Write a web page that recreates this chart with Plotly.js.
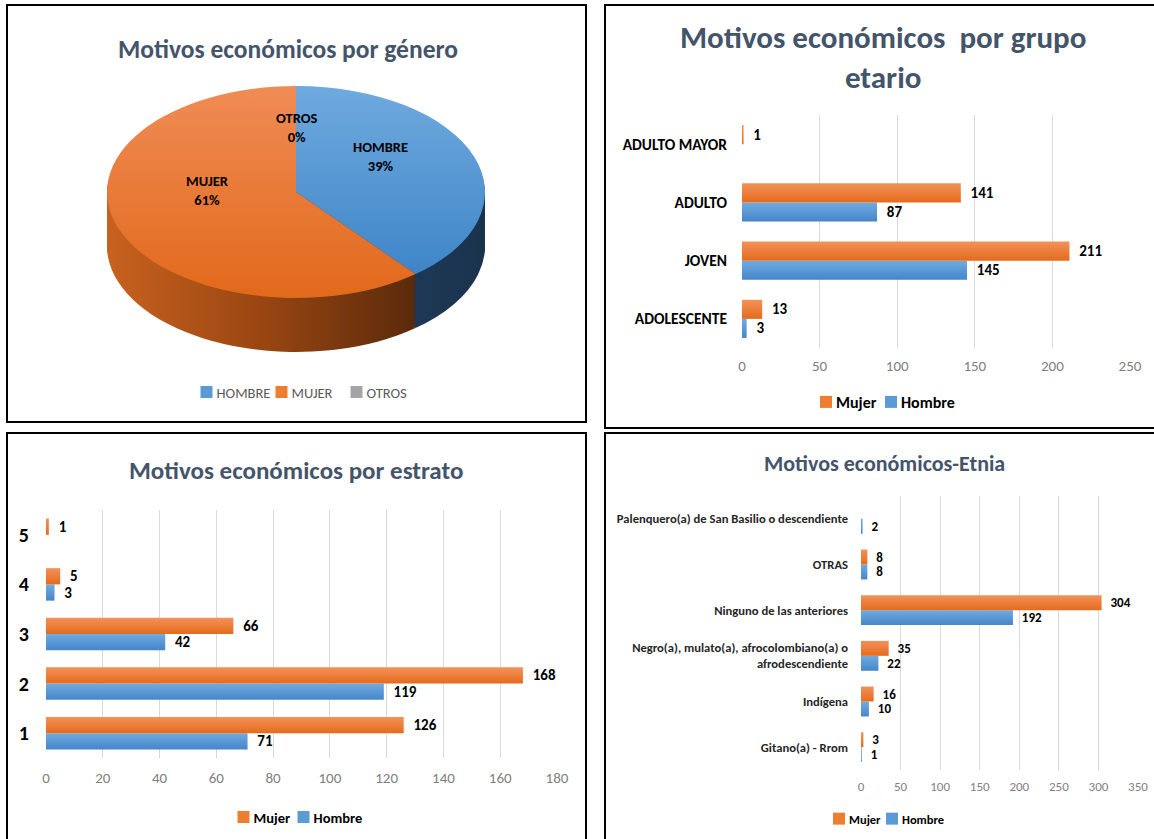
<!DOCTYPE html>
<html><head><meta charset="utf-8">
<script src="https://cdn.plot.ly/plotly-3.0.1.min.js"></script>
<style>html,body{margin:0;padding:0;background:#fff;} #chart{width:1154px;height:839px;}</style>
</head><body><div id="chart"></div>
<script>
// ---------------- data ----------------
const pieLabels = ['HOMBRE', 'MUJER', 'OTROS'];
const pieValues = [235, 366, 0];

const edadCats = ['ADOLESCENTE', 'JOVEN', 'ADULTO', 'ADULTO MAYOR'];
const edadHombre = [3, 145, 87, null];
const edadMujer = [13, 211, 141, 1];

const estratoCats = ['1', '2', '3', '4', '5'];
const estratoHombre = [71, 119, 42, 3, null];
const estratoMujer = [126, 168, 66, 5, 1];

const etniaCats = ['Gitano(a) - Rrom', 'Indígena', 'Negro(a), mulato(a), afrocolombiano(a) o<br>afrodescendiente', 'Ninguno de las anteriores', 'OTRAS', 'Palenquero(a) de San Basilio o descendiente'];
const etniaHombre = [1, 10, 22, 192, 8, 2];
const etniaMujer = [3, 16, 35, 304, 8, null];

const titles = ['Motivos económicos por género', 'Motivos económicos  por grupo<br>etario', 'Motivos económicos por estrato', 'Motivos económicos-Etnia'];

// ---------------- style / layout helpers ----------------
const W = 1154, H = 839;
const FONT = 'Carlito, Lato, "Open Sans", sans-serif';
const X = p => p / W, Y = p => 1 - p / H;
const ORANGE = '#ed7d31', BLUE = '#5b9bd5', GRAY = '#a5a5a5';
const ORANGE_SIDE = '#9c4812', BLUE_SIDE = '#1d3a56', GRAY_SIDE = '#666666';
const TITLE_COLOR = '#44546a';
const RY = 106, DEPTH = 54, STEP = 2;

const traces = [];
const pieDomain = {x: [X(107), X(485)], y: [Y(381), Y(3)]};
for (let d = DEPTH; d >= STEP; d -= STEP) {
  traces.push({type: 'pie', labels: pieLabels, values: pieValues, sort: false, direction: 'clockwise', rotation: 0,
    textinfo: 'none', hoverinfo: 'skip', showlegend: false, domain: pieDomain,
    marker: {colors: [BLUE_SIDE, ORANGE_SIDE, GRAY_SIDE], line: {width: 0}}, meta: {off: d}});
}
traces.push({type: 'pie', labels: pieLabels, values: pieValues, sort: false, direction: 'clockwise', rotation: 0,
  textinfo: 'none', hoverinfo: 'skip', showlegend: true, legend: 'legend', domain: pieDomain,
  marker: {colors: [BLUE, ORANGE, GRAY], line: {width: 0}}, meta: {off: 0}});

function barPair(cats, hom, muj, xa, ya, leg, fsize, lwM, lwH) {
  const base = {type: 'bar', orientation: 'h', y: cats, xaxis: xa, yaxis: ya, legend: leg,
    textposition: 'outside', cliponaxis: false, constraintext: 'none', texttemplate: '  %{x}',
    textfont: {family: FONT, size: fsize, color: '#000', weight: 'bold'}, hoverinfo: 'skip'};
  return [
    Object.assign({}, base, {x: hom, name: 'Hombre', marker: {color: BLUE}, legendwidth: lwH}),
    Object.assign({}, base, {x: muj, name: 'Mujer', marker: {color: ORANGE}, legendwidth: lwM})
  ];
}
traces.push(...barPair(edadCats, edadHombre, edadMujer, 'x', 'y', 'legend2', 15, 20, 60));
traces.push(...barPair(estratoCats, estratoHombre, estratoMujer, 'x2', 'y2', 'legend3', 15, 15, 54));
traces.push(...barPair(etniaCats, etniaHombre, etniaMujer, 'x3', 'y3', 'legend4', 13, 8, 46));

const xBase = {showline: false, zeroline: false, showgrid: true, gridcolor: '#d9d9d9', gridwidth: 1, ticks: '', fixedrange: true};
const yBase = {type: 'category', showline: false, zeroline: false, showgrid: false, ticks: '', fixedrange: true};

function legendAt(cx, cy, size, bold, color) {
  return {orientation: 'h', x: X(cx), y: Y(cy), xanchor: 'center', yanchor: 'middle', traceorder: 'reversed',
    bgcolor: 'rgba(0,0,0,0)', itemwidth: 30,
    font: {family: FONT, size: size, color: color, weight: bold ? 'bold' : 'normal'}};
}
function titleAnn(text, cx, cy, size) {
  return {text: text, x: X(cx), y: Y(cy), xref: 'paper', yref: 'paper', showarrow: false, xanchor: 'center', yanchor: 'middle',
    font: {family: FONT, size: size, color: TITLE_COLOR, weight: 'bold'}};
}
function border(x0, y0, x1, y1) {
  return {type: 'rect', xref: 'paper', yref: 'paper', x0: X(x0), x1: X(x1), y0: Y(y1), y1: Y(y0), line: {color: '#000', width: 2}, fillcolor: 'rgba(0,0,0,0)'};
}

const pieTotal = pieValues.reduce((a, b) => a + b, 0);
const pieLabelPos = [[380, 157], [207, 191], [296, 127]];
const pieAnns = pieLabels.map((lab, i) => ({
  text: lab + '<br>' + Math.round(100 * pieValues[i] / pieTotal) + '%',
  x: X(pieLabelPos[i][0]), y: Y(pieLabelPos[i][1]), xref: 'paper', yref: 'paper', showarrow: false,
  xanchor: 'center', yanchor: 'middle', font: {family: FONT, size: 14.5, color: '#000', weight: 'bold'}
}));

const layout = {
  width: W, height: H, margin: {l: 0, r: 0, t: 0, b: 0}, autosize: false,
  paper_bgcolor: '#ffffff', plot_bgcolor: 'rgba(0,0,0,0)', font: {family: FONT},
  barmode: 'group', bargap: 0.345, bargroupgap: 0,
  xaxis: Object.assign({}, xBase, {domain: [X(742), X(1130)], range: [0, 250], dtick: 50, anchor: 'y', ticklabelstandoff: 7,
    tickfont: {family: FONT, size: 15, color: '#7f7f7f'}}),
  yaxis: Object.assign({}, yBase, {domain: [Y(348), Y(115)], anchor: 'x', ticklabelstandoff: 14,
    tickfont: {family: FONT, size: 15.5, color: '#000', weight: 'bold'}}),
  xaxis2: Object.assign({}, xBase, {domain: [X(46), X(557)], range: [0, 180], dtick: 20, anchor: 'y2', ticklabelstandoff: 9,
    tickfont: {family: FONT, size: 15, color: '#7f7f7f'}}),
  yaxis2: Object.assign({}, yBase, {domain: [Y(758), Y(510)], anchor: 'x2', ticklabelstandoff: 16,
    tickfont: {family: FONT, size: 20, color: '#000', weight: 'bold'}}),
  xaxis3: Object.assign({}, xBase, {domain: [X(861), X(1138)], range: [0, 350], dtick: 50, anchor: 'y3', ticklabelstandoff: 7,
    tickfont: {family: FONT, size: 13, color: '#7f7f7f'}}),
  yaxis3: Object.assign({}, yBase, {domain: [Y(770), Y(496)], anchor: 'x3', ticklabelstandoff: 12,
    tickfont: {family: FONT, size: 12.6, color: '#262626', weight: 'bold'}}),
  legend: Object.assign(legendAt(299, 392, 14.5, false, '#595959'), {traceorder: 'normal', entrywidth: 30}),
  legend2: legendAt(891, 402, 16, true, '#000'),
  legend3: legendAt(303, 817, 14.5, true, '#000'),
  legend4: legendAt(891, 819, 12.5, true, '#000'),
  annotations: [
    titleAnn(titles[0], 288, 50, 25.5),
    titleAnn(titles[1], 883, 57, 31),
    titleAnn(titles[2], 296, 470, 25),
    titleAnn(titles[3], 884, 463, 22)
  ].concat(pieAnns),
  shapes: [border(7, 5, 586, 422), border(605, 5, 1165, 428), border(7, 433, 586, 850), border(605, 433, 1165, 850)]
};

const gd = document.getElementById('chart');
const NS = 'http://www.w3.org/2000/svg';
function ensureGrad(id, x2, y2, stops) {
  const svg = gd.querySelector('svg.main-svg');
  if (!svg) return;
  if (svg.querySelector('#' + id)) return;
  let defs = svg.querySelector('defs');
  if (!defs) { defs = document.createElementNS(NS, 'defs'); svg.insertBefore(defs, svg.firstChild); }
  const lg = document.createElementNS(NS, 'linearGradient');
  lg.setAttribute('id', id); lg.setAttribute('x1', '0'); lg.setAttribute('y1', '0');
  lg.setAttribute('x2', x2); lg.setAttribute('y2', y2);
  stops.forEach(s => { const st = document.createElementNS(NS, 'stop'); st.setAttribute('offset', s[0]); st.setAttribute('stop-color', s[1]); lg.appendChild(st); });
  defs.appendChild(lg);
}
function setFill(p, id) {
  if ((p.style.fill || '').indexOf(id) !== -1) return;
  p.style.fill = 'url(#' + id + ')';
}
function decorate() {
  ensureGrad('gMujerSide', '1', '0', [['0', '#c8621f'], ['0.5', '#9a4612'], ['1', '#5a2a0b']]);
  ensureGrad('gHombreSide', '1', '0', [['0', '#234263'], ['1', '#1a334d']]);
  ensureGrad('gMujerTop', '0', '1', [['0', '#ef8c55'], ['1', '#e2691b']]);
  ensureGrad('gHombreTop', '0', '1', [['0', '#6faadf'], ['1', '#3f85c7']]);
  ensureGrad('gBarMujer', '0', '1', [['0', '#f49159'], ['1', '#e46b1c']]);
  ensureGrad('gBarHombre', '0', '1', [['0', '#70abe1'], ['1', '#4586ca']]);
  try {
    let groups = gd.querySelectorAll('.pielayer > g.trace');
    if (!groups.length) groups = gd.querySelectorAll('.pielayer g.trace');
    groups.forEach(g => {
      const cd = g.__data__;
      if (!cd || !cd[0]) return;
      const cd0 = cd[0];
      const off = (cd0.trace && cd0.trace.meta && cd0.trace.meta.off) || 0;
      const s = RY / cd0.r;
      const tr = 'translate(0,' + (cd0.cy * (1 - s) + off) + ') scale(1,' + s + ')';
      if (g.getAttribute('transform') !== tr) g.setAttribute('transform', tr);
      g.querySelectorAll('g.slice').forEach(sl => {
        const pt = sl.__data__; if (!pt) return;
        const idx = (pt.i !== undefined) ? pt.i : (pt.pts ? pt.pts[0] : -1);
        const p = sl.querySelector('path.surface'); if (!p) return;
        const lab = pieLabels[idx];
        let id = null;
        if (lab === 'MUJER') id = off ? 'gMujerSide' : 'gMujerTop';
        if (lab === 'HOMBRE') id = off ? 'gHombreSide' : 'gHombreTop';
        if (id) setFill(p, id);
      });
    });
  } catch (e) {}
  try {
    gd.querySelectorAll('.barlayer g.trace').forEach(g => {
      const cd = g.__data__;
      const t = cd && cd[0] && cd[0].trace;
      if (!t) return;
      const id = t.name === 'Mujer' ? 'gBarMujer' : 'gBarHombre';
      g.querySelectorAll('path').forEach(p => setFill(p, id));
    });
  } catch (e) {}
  // tighten legend symbol-to-text spacing (all legends)
  gd.querySelectorAll('text').forEach(t => {
    const c = t.getAttribute('class') || '';
    if (!/(^|\s)legend\d*text(\s|$)/.test(c)) return;
    if (t.getAttribute('transform') !== 'translate(-10,0)') t.setAttribute('transform', 'translate(-10,0)');
  });
}
const obs = new MutationObserver(() => decorate());
obs.observe(gd, {childList: true, subtree: true});
Plotly.newPlot(gd, traces, layout, {staticPlot: true, displayModeBar: false}).then(() => {
  decorate();
  if (gd.on) gd.on('plotly_afterplot', decorate);
  [0, 50, 200, 500, 1000].forEach(t => setTimeout(decorate, t));
});
</script></body></html>
